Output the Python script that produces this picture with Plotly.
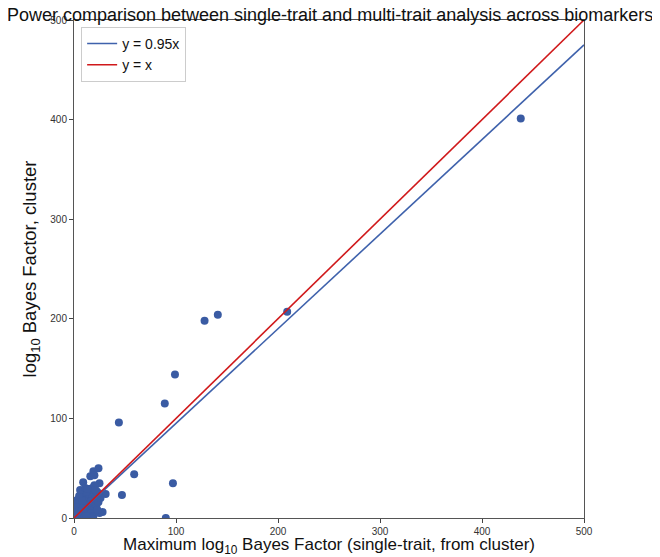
import plotly.graph_objects as go

# single-trait max log10 BF (x) vs multi-trait cluster log10 BF (y)
single_bf = [
    438, 209, 141, 128, 99, 89, 44, 59, 97, 47, 90, 31, 28, 24, 19, 16, 20, 25, 9, 15, 22,
    1, 2, 3, 4, 5, 6, 7, 8, 9, 10, 11, 12, 13, 14, 15, 16, 17, 18, 20, 22,
    3, 5, 7, 9, 11, 13, 15, 17, 19, 21, 23, 2, 4, 6, 8, 10, 12, 14, 16, 18,
    20, 22, 24, 26, 6, 8, 10, 12, 4, 7, 14, 17, 19, 16, 25, 23, 1, 2, 3, 5,
    18, 20, 6, 11, 13, 0, 0, 10, 12, 8, 24, 21,
]
cluster_bf = [
    401, 207, 204, 198, 144, 115, 96, 44, 35, 23, 0, 24, 6, 50, 47, 42, 43, 35, 36, 29, 18,
    2, 5, 8, 12, 15, 18, 20, 14, 21, 17, 22, 19, 16, 24, 20, 23, 26, 21, 25, 27,
    1, 3, 6, 9, 12, 11, 14, 17, 15, 19, 22, 0, 0, 1, 2, 4, 6, 8, 10, 12,
    9, 13, 16, 20, 10, 25, 13, 26, 6, 11, 3, 5, 2, 1, 5, 8, 10, 14, 18, 22,
    30, 33, 28, 30, 29, 3, 6, 0, 2, 17, 25, 28,
]

line_x = [0, 500]
slope_labels = ["y = 0.95x", "y = x"]
slopes = [0.95, 1.0]
line_colors = ["#3f62ac", "#d0191b"]

fig = go.Figure()
fig.add_trace(
    go.Scatter(
        x=single_bf,
        y=cluster_bf,
        mode="markers",
        marker=dict(size=8, color="#3a5ba3"),
        showlegend=False,
    )
)
for label, slope, color in zip(slope_labels, slopes, line_colors):
    fig.add_trace(
        go.Scatter(
            x=line_x,
            y=[slope * v for v in line_x],
            mode="lines",
            line=dict(color=color, width=1.6),
            name=label,
        )
    )

axis_style = dict(
    range=[0, 500],
    tickvals=[0, 100, 200, 300, 400, 500],
    ticks="outside",
    ticklen=4,
    tickcolor="#444",
    tickfont=dict(size=10, color="#333"),
    showgrid=False,
    zeroline=False,
    showline=True,
    linecolor="#555",
    linewidth=1,
    mirror=True,
    automargin=False,
)

# the page body adds an 8px offset, so the figure is sized 8px smaller
fig.update_layout(
    width=652,
    height=549,
    margin=dict(l=66, r=76, t=12, b=39),
    plot_bgcolor="white",
    paper_bgcolor="white",
    font=dict(family="Liberation Sans, Arial, sans-serif", color="#111"),
    title=dict(
        text="Power comparison between single-trait and multi-trait analysis across biomarkers",
        x=0.494,
        xanchor="center",
        y=1.0,
        yanchor="top",
        font=dict(size=18, color="#111"),
    ),
    xaxis=dict(
        axis_style,
        title=dict(
            text="Maximum log<sub>10</sub> Bayes Factor (single-trait, from cluster)",
            font=dict(size=17),
            standoff=6,
        ),
    ),
    yaxis=dict(
        axis_style,
        title=dict(
            text="log<sub>10</sub> Bayes Factor, cluster",
            font=dict(size=18.5),
            standoff=8,
        ),
    ),
    legend=dict(
        x=0.014,
        y=0.986,
        xanchor="left",
        yanchor="top",
        bgcolor="white",
        bordercolor="#ccc",
        borderwidth=1,
        font=dict(size=14, color="#111"),
    ),
)

fig.write_html("out.html")
